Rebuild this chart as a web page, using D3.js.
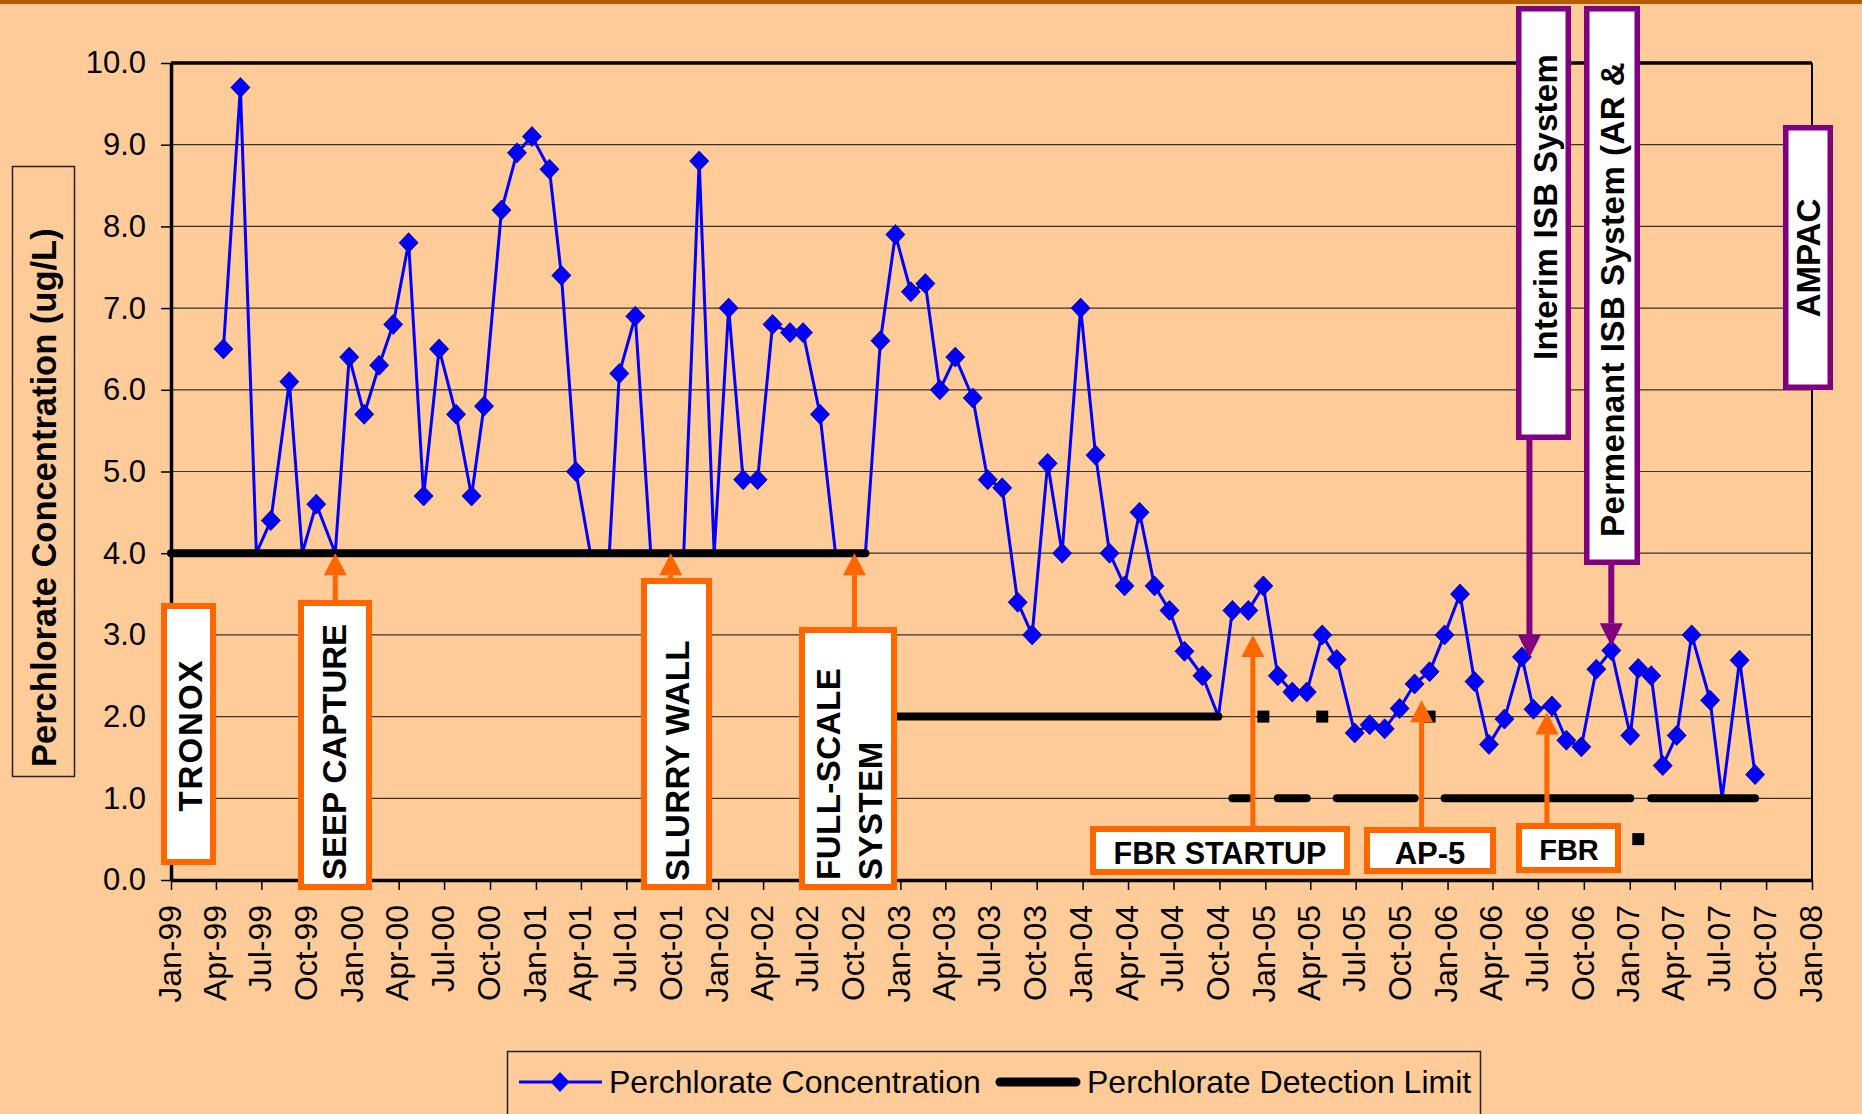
<!DOCTYPE html>
<html>
<head>
<meta charset="utf-8">
<script src="https://cdn.jsdelivr.net/npm/d3@7"></script>
<style>
  html, body { margin: 0; padding: 0; background: #FFCC99; }
  svg { display: block; }
  text { font-family: "Liberation Sans", Arial, sans-serif; fill: #000; }
</style>
</head>
<body>
<div id="chart"></div>
<script>
'use strict'

/*
 Data: sampling dates, perchlorate concentration (ug/L) and detection limit
*/
let sampleDates = [
  "1999-04-16","1999-05-20","1999-06-21","1999-07-20","1999-08-26","1999-09-21","1999-10-19","1999-11-26","1999-12-24",
  "2000-01-23","2000-02-22","2000-03-21","2000-04-21","2000-05-21","2000-06-21","2000-07-25","2000-08-25","2000-09-19","2000-10-24","2000-11-24","2000-12-24",
  "2001-01-28","2001-02-21","2001-03-22","2001-04-20","2001-05-28","2001-06-17","2001-07-19","2001-08-19","2001-10-24","2001-11-24","2001-12-24",
  "2002-01-22","2002-02-20","2002-03-21","2002-04-20","2002-05-25","2002-06-20","2002-07-24","2002-08-24","2002-10-23","2002-11-22","2002-12-22",
  "2003-01-22","2003-02-20","2003-03-21","2003-04-21","2003-05-26","2003-06-25","2003-07-24","2003-08-24","2003-09-22","2003-10-23","2003-11-21","2003-12-28",
  "2004-01-27","2004-02-24","2004-03-25","2004-04-24","2004-05-24","2004-06-23","2004-07-23","2004-08-28","2004-09-29","2004-10-27","2004-11-28","2004-12-28",
  "2005-01-26","2005-02-24","2005-03-25","2005-04-25","2005-05-24","2005-06-29","2005-07-29","2005-08-28","2005-09-27","2005-10-27","2005-11-26","2005-12-26",
  "2006-01-26","2006-02-24","2006-03-25","2006-04-25","2006-05-30","2006-06-22","2006-07-29","2006-08-27","2006-09-26","2006-10-26","2006-11-25",
  "2007-01-02","2007-01-18","2007-02-13","2007-03-08","2007-04-05","2007-05-05","2007-06-11","2007-07-05","2007-08-09","2007-09-09"
]
let concentration = [
  6.5, 9.7, 4.0, 4.4, 6.1, 4.0, 4.6, 4.0, 6.4,
  5.7, 6.3, 6.8, 7.8, 4.7, 6.5, 5.7, 4.7, 5.8, 8.2, 8.9, 9.1,
  8.7, 7.4, 5.0, 4.0, 4.0, 6.2, 6.9, 4.0, 4.0, 8.8, 4.0,
  7.0, 4.9, 4.9, 6.8, 6.7, 6.7, 5.7, 4.0, 4.0, 6.6, 7.9,
  7.2, 7.3, 6.0, 6.4, 5.9, 4.9, 4.8, 3.4, 3.0, 5.1, 4.0, 7.0,
  5.2, 4.0, 3.6, 4.5, 3.6, 3.3, 2.8, 2.5, 2.0, 3.3, 3.3, 3.6,
  2.5, 2.3, 2.3, 3.0, 2.7, 1.8, 1.9, 1.85, 2.1, 2.4, 2.55, 3.0,
  3.5, 2.43, 1.66, 1.97, 2.73, 2.09, 2.13, 1.71, 1.63, 2.58, 2.81,
  1.77, 2.59, 2.5, 1.4, 1.77, 3.0, 2.2, 1.0, 2.69, 1.29
]
let detectionLimit = [
  4, 4, 4, 4, 4, 4, 4, 4, 4,
  4, 4, 4, 4, 4, 4, 4, 4, 4, 4, 4, 4,
  4, 4, 4, 4, 4, 4, 4, 4, 4, 4, 4,
  4, 4, 4, 4, 4, 4, 4, 4, 4, 2, 2,
  2, 2, 2, 2, 2, 2, 2, 2, 2, 2, 2, 2,
  2, 2, 2, 2, 2, 2, 2, 2, 2, 1, 1, 2,
  1, 1, 1, 2, 1, 1, 1, 1, 1, 1, 2, 1,
  1, 1, 1, 1, 1, 1, 1, 1, 1, 1, 1,
  1, 0.5, 1, 1, 1, 1, 1, 1, 1, 1
]
let detectionStart = "1999-01-01"   // limit line starts at the axis
let axisStart = "1999-01-01"
let axisEnd = "2008-01-01"
let yTicks = [0, 1, 2, 3, 4, 5, 6, 7, 8, 9, 10]
let legendLabels = ["Perchlorate Concentration", "Perchlorate Detection Limit"]
let yTitle = "Perchlorate Concentration (ug/L)"

/*
 Callouts: label, arrow target (date, value)
*/
let calloutLabels = ["TRONOX", "SEEP CAPTURE", "SLURRY WALL", "FULL-SCALE|SYSTEM", "FBR STARTUP", "AP-5", "FBR",
  "Interim ISB System", "Permenant ISB System (AR &", "AMPAC"]
let calloutDates = [null, "1999-11-26", "2001-09-28", "2002-10-01", "2004-12-07", "2005-11-10", "2006-07-19",
  "2006-06-14", "2006-11-25", null]
let calloutValues = [null, 4.0, 4.0, 4.0, 3.0, 2.2, 2.05, 2.72, 2.86, null]

/*
 Layout
*/
let width = 1862
let height = 1114
let plot = { left: 171, right: 1812, top: 63, bottom: 880 }
let orange = "#FF6600"
let purple = "#800080"
let blue = "#0000FF"

// box: [x0, y0, x1, y1], text placement
let calloutLayout = [
  { box: [161, 603, 216, 865], color: orange, dir: "v", tx: [190], ty: 735, anchor: "middle", ls: 2 },
  { box: [298, 600, 372, 890], color: orange, dir: "v", tx: [334], ty: 880, anchor: "start", ls: 0 },
  { box: [641, 578, 712, 890], color: orange, dir: "v", tx: [677], ty: 881, anchor: "start", ls: 0.4 },
  { box: [799, 627, 897, 890], color: orange, dir: "v", tx: [828, 870], ty: 880, anchor: "start", ls: 0.5 },
  { box: [1090, 826, 1350, 875], color: orange, dir: "h", tx: [1220], ty: 853, size: 30.5 },
  { box: [1364, 827, 1496, 874], color: orange, dir: "h", tx: [1430], ty: 853, size: 31 },
  { box: [1516, 823, 1621, 873], color: orange, dir: "h", tx: [1569], ty: 850, size: 29 },
  { box: [1516, 6, 1571, 440], color: purple, dir: "v", tx: [1545], ty: 360, anchor: "start", ls: 0.3 },
  { box: [1584, 6, 1640, 565], color: purple, dir: "v", tx: [1612], ty: 537, anchor: "start", ls: 0.5 },
  { box: [1783, 125, 1833, 390], color: purple, dir: "v", tx: [1808], ty: 258, anchor: "middle", ls: 0 }
]

let parse = d3.timeParse("%Y-%m-%d")

let x = d3.scaleTime()
  .domain([parse(axisStart), parse(axisEnd)])
  .range([plot.left, plot.right])

let y = d3.scaleLinear()
  .domain([0, 10])
  .range([plot.bottom, plot.top])

let svg = d3.select("#chart").append("svg")
  .attr("width", width)
  .attr("height", height)

svg.append("rect").attr("width", width).attr("height", height).attr("fill", "#FFCC99")
svg.append("rect").attr("width", width).attr("height", 4).attr("fill", "#B65B00")

// gridlines
svg.append("g").selectAll("line")
  .data(yTicks.filter(d => d > 0 && d < 10))
  .enter().append("line")
  .attr("x1", plot.left).attr("x2", plot.right)
  .attr("y1", d => y(d)).attr("y2", d => y(d))
  .attr("stroke", "#333").attr("stroke-width", 1.2)

// plot border (top + right)
svg.append("line")
  .attr("x1", plot.left).attr("x2", plot.right)
  .attr("y1", plot.top).attr("y2", plot.top)
  .attr("stroke", "#000").attr("stroke-width", 3.5)
svg.append("line")
  .attr("x1", plot.right).attr("x2", plot.right)
  .attr("y1", plot.top).attr("y2", plot.bottom)
  .attr("stroke", "#000").attr("stroke-width", 2)

// y axis
let yAxis = svg.append("g")
  .attr("transform", "translate(" + plot.left + ",0)")
  .call(d3.axisLeft(y).tickValues(yTicks).tickFormat(d3.format(".1f"))
    .tickSize(10).tickSizeOuter(0).tickPadding(15))
yAxis.select(".domain").attr("stroke", "#000").attr("stroke-width", 3.5)
yAxis.selectAll(".tick line").attr("stroke", "#000").attr("stroke-width", 1.5)
yAxis.selectAll("text").style("font-size", "31px").attr("fill", "#000")

// x axis
let xAxis = svg.append("g")
  .attr("transform", "translate(0," + plot.bottom + ")")
  .call(d3.axisBottom(x).ticks(d3.timeMonth.every(3)).tickFormat(d3.timeFormat("%b-%y"))
    .tickSize(10).tickSizeOuter(0))
xAxis.select(".domain").attr("stroke", "#000").attr("stroke-width", 3.5)
xAxis.selectAll(".tick line").attr("stroke", "#000").attr("stroke-width", 1.5)
xAxis.selectAll("text")
  .attr("transform", "rotate(-90)")
  .attr("text-anchor", "end")
  .attr("x", -25)
  .attr("y", -2)
  .attr("dy", "0.35em")
  .attr("fill", "#000")
  .style("font-size", "32px")

// concentration series
let samples = sampleDates.map((d, i) => ({
  date: parse(d), value: concentration[i], limit: detectionLimit[i]
}))

let line = d3.line().x(d => x(d.date)).y(d => y(d.value))

svg.append("path")
  .datum(samples)
  .attr("d", line)
  .attr("fill", "none")
  .attr("stroke", blue)
  .attr("stroke-width", 3)
  .attr("stroke-linejoin", "round")

// markers only where the sample was detected (value above limit)
svg.append("g").selectAll("path")
  .data(samples.filter(d => d.value !== d.limit))
  .enter().append("path")
  .attr("transform", d => "translate(" + x(d.date) + "," + y(d.value) + ")")
  .attr("d", "M0,-10L9.5,0L0,10L-9.5,0Z")
  .attr("fill", blue)
  .attr("stroke", "#00007A")
  .attr("stroke-width", 0.8)

// detection limit: runs of equal limits are drawn as lines, single points as squares
let limitPts = [{ date: parse(detectionStart), value: detectionLimit[0] }]
  .concat(samples.map(d => ({ date: d.date, value: d.limit })))
let runs = []
limitPts.forEach(function (p, i) {
  if (i === 0 || p.value !== limitPts[i - 1].value) runs.push([])
  runs[runs.length - 1].push(p)
})
let dlLine = d3.line().x(d => x(d.date)).y(d => y(d.value))
runs.forEach(function (run) {
  if (run.length > 1) {
    svg.append("path")
      .datum(run)
      .attr("d", dlLine)
      .attr("fill", "none")
      .attr("stroke", "#000")
      .attr("stroke-width", 8)
      .attr("stroke-linecap", "round")
  } else {
    svg.append("rect")
      .attr("x", x(run[0].date) - 6)
      .attr("y", y(run[0].value) - 6)
      .attr("width", 12)
      .attr("height", 12)
      .attr("fill", "#000")
  }
})

/*
 Callouts
*/
function vText(g, str, cx, ty, anchor, size, ls) {
  g.append("text")
    .attr("transform", "translate(" + cx + "," + ty + ") rotate(-90)")
    .attr("text-anchor", anchor)
    .attr("dy", "0.35em")
    .style("font-size", size + "px")
    .style("font-weight", "bold")
    .style("letter-spacing", ls + "px")
    .text(str)
}

calloutLabels.forEach(function (label, i) {
  let lay = calloutLayout[i]
  let g = svg.append("g")
  let b = lay.box
  let bw = lay.color === orange ? 6 : 5.5

  // arrow
  if (calloutDates[i]) {
    let ax = x(parse(calloutDates[i]))
    let tip = y(calloutValues[i])
    let up = tip < b[1]
    let head = up ? 22 : 23
    let base = up ? tip + head : tip - head
    g.append("line")
      .attr("x1", ax).attr("x2", ax)
      .attr("y1", up ? b[1] : b[3]).attr("y2", base)
      .attr("stroke", lay.color).attr("stroke-width", up ? 5 : 6)
    g.append("path")
      .attr("d", "M" + ax + "," + tip + "L" + (ax - 11.5) + "," + base + "L" + (ax + 11.5) + "," + base + "Z")
      .attr("fill", lay.color)
  }

  g.append("rect")
    .attr("x", b[0] + bw / 2).attr("y", b[1] + bw / 2)
    .attr("width", b[2] - b[0] - bw).attr("height", b[3] - b[1] - bw)
    .attr("fill", "#fff")
    .attr("stroke", lay.color)
    .attr("stroke-width", bw)

  if (lay.dir === "h") {
    g.append("text")
      .attr("x", lay.tx[0]).attr("y", lay.ty)
      .attr("dy", "0.35em")
      .attr("text-anchor", "middle")
      .style("font-size", lay.size + "px")
      .style("font-weight", "bold")
      .text(label)
  } else {
    label.split("|").forEach(function (part, k) {
      vText(g, part, lay.tx[k], lay.ty, lay.anchor, 33, lay.ls)
    })
  }
})

/*
 Y axis title in a box
*/
svg.append("rect")
  .attr("x", 12.5).attr("y", 166.5)
  .attr("width", 62).attr("height", 610)
  .attr("fill", "none")
  .attr("stroke", "#222")
  .attr("stroke-width", 1.5)
vText(svg, yTitle, 44, 767, "start", 34.5, 0)

/*
 Legend
*/
let legend = svg.append("g")
legend.append("rect")
  .attr("x", 507.5).attr("y", 1051.5)
  .attr("width", 973).attr("height", 90)
  .attr("fill", "none")
  .attr("stroke", "#222")
  .attr("stroke-width", 1.5)
let ly = 1082
legend.append("line")
  .attr("x1", 519).attr("x2", 602).attr("y1", ly).attr("y2", ly)
  .attr("stroke", blue).attr("stroke-width", 3)
legend.append("path")
  .attr("transform", "translate(560," + ly + ")")
  .attr("d", "M0,-10L9.5,0L0,10L-9.5,0Z")
  .attr("fill", blue)
legend.append("text")
  .attr("x", 609).attr("y", ly).attr("dy", "0.35em")
  .style("font-size", "32px")
  .text(legendLabels[0])
legend.append("line")
  .attr("x1", 1000).attr("x2", 1076).attr("y1", ly).attr("y2", ly)
  .attr("stroke", "#000").attr("stroke-width", 9)
  .attr("stroke-linecap", "round")
legend.append("text")
  .attr("x", 1087).attr("y", ly).attr("dy", "0.35em")
  .style("font-size", "32px")
  .text(legendLabels[1])
</script>
</body>
</html>
